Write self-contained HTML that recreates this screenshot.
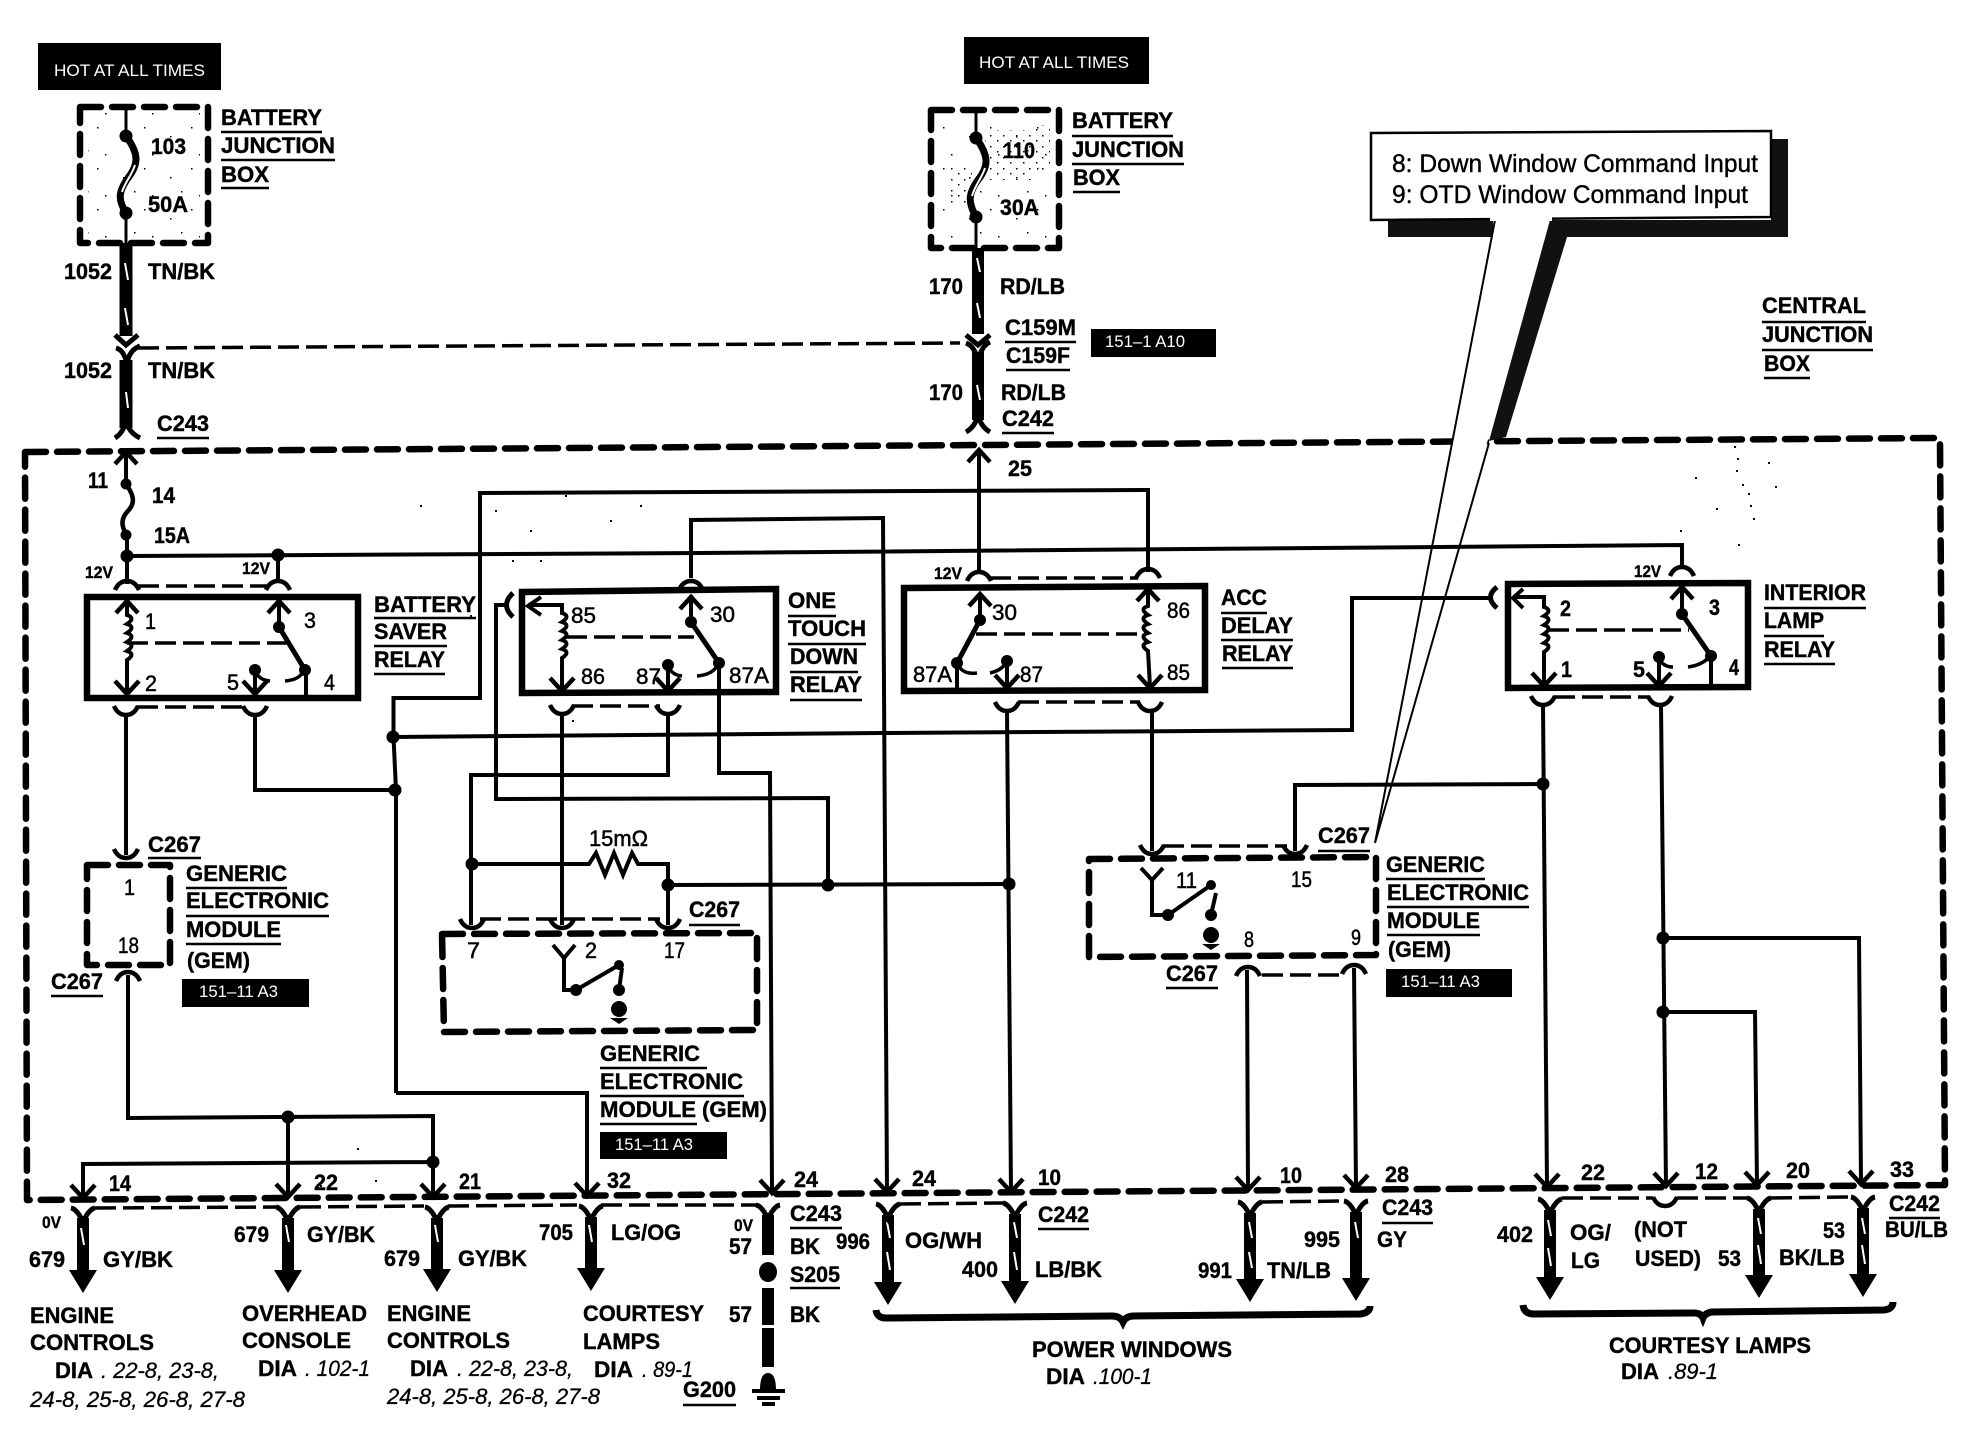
<!DOCTYPE html>
<html><head><meta charset="utf-8"><style>
html,body{margin:0;padding:0;background:#fff}
svg{display:block}
text{font-family:"Liberation Sans",sans-serif;font-weight:bold;font-size:22px;fill:#000;stroke:#000;stroke-width:.4px}
.w{fill:#fff;font-weight:normal;font-size:17px;stroke:none}
.s{font-size:17px}
.i{font-style:italic;font-weight:normal;stroke:#000;stroke-width:.3px}
.c{font-weight:normal;font-size:25px;stroke:#000;stroke-width:.4px}
.n{font-weight:normal;stroke:#000;stroke-width:.5px}
.l{fill:none;stroke:#000;stroke-width:4}
.d{fill:none;stroke:#000;stroke-width:3.5;stroke-dasharray:21 7}
.f{fill:none;stroke:#000;stroke-width:6.5;stroke-dasharray:21 11;stroke-linecap:round;stroke-linejoin:round}
.t{fill:none;stroke:#000;stroke-width:12}
.k{fill:none;stroke:#fff;stroke-width:2}
</style></head><body>
<svg width="1970" height="1440" viewBox="0 0 1970 1440" xmlns="http://www.w3.org/2000/svg">
<defs>
<pattern id="st" width="47" height="41" patternUnits="userSpaceOnUse"><rect x="3" y="4" width="1.5" height="1.5"/><rect x="29" y="13" width="1.5" height="1.5"/><rect x="11" y="31" width="1.5" height="1.5"/><rect x="40" y="27" width="1.5" height="1.5"/></pattern>
<pattern id="st2" width="13" height="11" patternUnits="userSpaceOnUse"><rect x="2" y="3" width="1.5" height="1.5"/><rect x="9" y="8" width="1.5" height="1.5"/></pattern>
<path id="da" d="M-12 -13L0 0L12 -13" fill="none" stroke="#000" stroke-width="4.5"/>
<path id="ua" d="M-11 12L0 0L11 12" fill="none" stroke="#000" stroke-width="4.5"/>
<path id="cu" d="M-12 -6Q-8 3 0 3Q8 3 12 -6" fill="none" stroke="#000" stroke-width="4.5"/>
<path id="ar" d="M-12 6Q-8 -3 0 -3Q8 -3 12 6" fill="none" stroke="#000" stroke-width="4.5"/>
<path id="yf" d="M-12 0Q-6 1 0 14Q6 1 12 0" fill="none" stroke="#000" stroke-width="5"/>
<path id="he" d="M-14 0H14L0 23Z"/>
</defs>
<rect width="1970" height="1440" fill="#fff"/>

<!-- black labels -->
<g fill="#000">
<rect x="38" y="43" width="183" height="47"/><rect x="964" y="37" width="185" height="47"/>
<rect x="1091" y="329" width="125" height="28"/><rect x="182" y="979" width="127" height="28"/>
<rect x="600" y="1132" width="127" height="27"/><rect x="1386" y="969" width="126" height="28"/>
</g>
<text class="w" x="54" y="76" textLength="151" lengthAdjust="spacingAndGlyphs">HOT AT ALL TIMES</text>
<text class="w" x="979" y="68" textLength="150" lengthAdjust="spacingAndGlyphs">HOT AT ALL TIMES</text>
<text class="w" x="1105" y="347" textLength="80" lengthAdjust="spacingAndGlyphs">151–1 A10</text>
<text class="w" x="199" y="997" textLength="79" lengthAdjust="spacingAndGlyphs">151–11 A3</text>
<text class="w" x="615" y="1150" textLength="78" lengthAdjust="spacingAndGlyphs">151–11 A3</text>
<text class="w" x="1401" y="987" textLength="79" lengthAdjust="spacingAndGlyphs">151–11 A3</text>

<!-- stipple in the fuse boxes and specks -->
<rect x="88" y="113" width="112" height="125" fill="url(#st)"/>
<rect x="940" y="116" width="112" height="126" fill="url(#st)"/>
<rect x="985" y="130" width="50" height="50" fill="url(#st2)"/>
<rect x="950" y="165" width="22" height="40" fill="url(#st2)"/>
<rect x="1035" y="125" width="15" height="45" fill="url(#st2)"/>
<path d="M1734 446h2v2h-2zM1737 458h2v2h-2zM1768 462h2v2h-2zM1736 470h2v2h-2zM1742 484h2v2h-2zM1748 493h2v2h-2zM1695 477h2v2h-2zM1775 486h2v2h-2zM1716 508h2v2h-2zM1750 505h2v2h-2zM1753 518h2v2h-2zM1680 530h2v2h-2zM1738 544h2v2h-2zM420 505h2v2h-2zM495 510h2v2h-2zM530 530h2v2h-2zM565 495h2v2h-2zM610 520h2v2h-2zM640 505h2v2h-2zM512 560h2v2h-2zM470 615h2v2h-2zM540 560h2v2h-2zM572 720h2v2h-2zM320 1185h2v2h-2zM357 1148h2v2h-2zM375 1180h2v2h-2z"/>

<!-- frame and dashed boxes -->
<path class="f" d="M25 452L1937 438Q1940 438 1940 442L1945 1185L27 1200Z"/>
<rect class="f" x="80" y="107" width="128" height="136"/>
<rect class="f" x="931" y="110" width="128" height="138"/>
<rect class="f" x="87" y="865" width="83" height="100"/>
<path class="f" d="M442 934L757 933L757 1030L444 1032Z"/>
<path class="f" d="M1089 859L1376 857L1376 955L1089 957Z"/>

<!-- callout -->
<rect x="1771" y="139" width="17" height="98" fill="#111"/>
<rect x="1388" y="220" width="105" height="17" fill="#111"/>
<rect x="1550" y="220" width="238" height="17" fill="#111"/>
<path d="M1495 218L1375 843L1550 218Z" fill="#fff"/>
<path d="M1550 220L1567 237L1506 437L1489 441Z" fill="#111"/>
<path d="M1495 220L1375 843L1489 443" fill="none" stroke="#000" stroke-width="2"/>
<path d="M1371 133L1771 131V217L1371 220Z" fill="#fff" stroke="#000" stroke-width="2.5"/>
<path d="M1490 219H1552" stroke="#fff" stroke-width="4"/>
<text class="c" x="1392" y="172" textLength="366" lengthAdjust="spacingAndGlyphs">8: Down Window Command Input</text>
<text class="c" x="1392" y="203" textLength="356" lengthAdjust="spacingAndGlyphs">9: OTD Window Command Input</text>

<!-- relay boxes -->
<g fill="none" stroke="#000" stroke-width="6.5">
<rect x="87" y="597" width="271" height="101"/>
<path d="M522 592L776 589V692L522 693Z"/>
<path d="M904 588L1205 586V690L904 691Z"/>
<path d="M1508 584L1748 583V687L1508 688Z"/>
</g>

<!-- fuses -->
<g fill="none" stroke="#000">
<path stroke-width="7" d="M126 136C140 155 138 165 128 178C118 192 118 200 126 213"/>
<path stroke-width="7" d="M976 138C990 157 988 167 978 180C968 194 968 202 976 217"/>
<path stroke-width="4.5" d="M126 484C136 498 134 505 127 512C120 520 122 528 127 535"/>
</g>
<path class="k" d="M135 165C132 175 125 182 122 192M985 168C982 178 975 185 972 196"/>

<!-- thick wires -->
<g>
<path class="t" style="stroke-width:13" d="M126 243V336M126 360V428"/>
<path class="t" d="M978 248V334M978 352V420"/>
<path class="t" d="M83 1218V1272M288 1218V1272M437 1218V1272M591 1217V1270"/>
<path class="t" d="M768 1215V1255M768 1288V1325M768 1328V1367"/>
<path class="t" d="M888 1215V1284M1015 1214V1284M1250 1213V1280M1356 1212V1280M1550 1210V1278M1759 1209V1276M1863 1208V1275"/>
</g>
<g>
<use href="#he" x="83" y="1270"/><use href="#he" x="288" y="1270"/><use href="#he" x="437" y="1269"/><use href="#he" x="591" y="1268"/>
<use href="#he" x="888" y="1282"/><use href="#he" x="1015" y="1281"/><use href="#he" x="1250" y="1279"/><use href="#he" x="1356" y="1278"/>
<use href="#he" x="1550" y="1277"/><use href="#he" x="1759" y="1275"/><use href="#he" x="1863" y="1274"/>
</g>
<g fill="none" stroke="#000" stroke-width="5">
<path d="M115 335L126 345L138 335M116 348Q124 350 127 364Q129 350 140 346M115 438Q124 432 126 420Q128 432 140 438"/>
<path d="M966 335L978 345L990 335M966 343Q975 346 978 362Q981 346 990 342M966 432Q975 427 978 415Q981 427 990 432"/>
</g>
<path class="k" d="M125 263L128 280M125 308L128 325M126 392L128 408M977 258L980 272M977 303L980 318M977 385L980 400"/>
<path class="k" d="M81 1228L84 1245M286 1225L289 1242M435 1225L438 1242M589 1225L592 1242M887 1222L890 1238M887 1252L890 1270M1014 1222L1017 1238M1014 1252L1017 1270M1249 1222L1252 1238M1249 1252L1252 1268M1355 1222L1358 1238M1548 1220L1551 1236M1548 1248L1551 1266M1758 1218L1761 1234M1758 1245L1761 1264M1862 1218L1865 1234M1862 1245L1865 1264"/>

<!-- thin wires -->
<g>
<path class="l" style="stroke-width:3" d="M126 107V136M126 213V243M976 110V138M976 217V248"/>
<path class="l" d="M126 454V484M127 535V584"/>
<path class="l" d="M127 556L700 553L1682 545V568"/>
<path class="l" d="M278 555V582"/>
<path class="l" d="M126 713V855M255 713V790H395"/>
<path class="l" d="M396 1093V790L393.5 737V698H480V493L1148 490V572"/>
<path class="l" d="M396 1093H587V1196"/>
<path class="l" d="M393 737L882 733L1352 730V598H1490"/>
<path class="l" d="M505 605H496V799L828 798V885"/>
<path class="l" d="M668 713V775H471V925"/>
<path class="l" d="M472 864H589L596 853L605 875L614 853L623 875L632 853L638 864H668V925"/>
<path class="l" d="M668 885L1009 884"/>
<path class="l" d="M562 713V925"/>
<path class="l" d="M691 578V520L883 518L887 1192"/>
<path class="l" d="M719 663V773H770L772 1193"/>
<path class="l" d="M979 452V572"/>
<path class="l" d="M1007 710L1011 1192"/>
<path class="l" d="M1152 710V851"/>
<path class="l" d="M1295 851V785L1543 784"/>
<path class="l" d="M1543 704L1547 1187M1661 704L1666 1186"/>
<path class="l" d="M1663 938H1859L1861 1184M1663 1012H1755L1757 1185"/>
<path class="l" d="M1247 970L1248 1190M1354 968L1356 1188"/>
<path class="l" d="M128 975V1118L433 1116V1197M288 1117V1197M433 1162L83 1164V1198"/>
</g>

<!-- dashed connector lines -->
<g>
<path class="d" d="M138 348L960 343"/>
<path class="d" d="M138 586H268M137 707H246M572 706H660M990 578H1138M1018 702H1140M1554 697H1650M480 919H660M1163 846H1287M1262 975H1342"/>
<path class="d" d="M95 1208L276 1207M300 1207L424 1206M448 1206L577 1205M601 1205L757 1205M900 1204L1003 1203M1262 1202L1344 1201M1562 1198L1653 1198M1677 1198L1747 1198M1771 1198L1850 1197"/>
<path class="d" d="M127 643H287M566 637H694M976 634H1144M1548 630H1689"/>
</g>

<!-- connector symbols -->
<use href="#ua" x="126" y="452"/><use href="#ua" x="979" y="450"/>
<use href="#ar" x="127" y="584"/><use href="#ar" x="278" y="584"/><use href="#ar" x="691" y="584"/>
<use href="#ar" x="979" y="575"/><use href="#ar" x="1148" y="572"/><use href="#ar" x="1682" y="570"/>
<use href="#ar" x="128" y="975"/><use href="#ar" x="1248" y="970"/><use href="#ar" x="1354" y="968"/>
<use href="#cu" x="126" y="712"/><use href="#cu" x="255" y="712"/><use href="#cu" x="562" y="711"/><use href="#cu" x="668" y="711"/>
<use href="#cu" x="1007" y="708"/><use href="#cu" x="1150" y="708"/><use href="#cu" x="1543" y="702"/><use href="#cu" x="1660" y="702"/>
<use href="#cu" x="126" y="855"/><use href="#cu" x="472" y="925"/><use href="#cu" x="562" y="925"/><use href="#cu" x="668" y="925"/>
<use href="#cu" x="1152" y="851"/><use href="#cu" x="1295" y="851"/><use href="#cu" x="1665" y="1203"/>
<g>
<use href="#yf" x="83" y="1208"/><use href="#yf" x="288" y="1207"/><use href="#yf" x="437" y="1207"/><use href="#yf" x="591" y="1206"/>
<use href="#yf" x="768" y="1205"/><use href="#yf" x="888" y="1204"/><use href="#yf" x="1015" y="1203"/><use href="#yf" x="1250" y="1202"/>
<use href="#yf" x="1356" y="1201"/><use href="#yf" x="1550" y="1199"/><use href="#yf" x="1759" y="1198"/><use href="#yf" x="1863" y="1197"/>
</g>
<use href="#da" x="83" y="1198"/><use href="#da" x="288" y="1197"/><use href="#da" x="433" y="1197"/><use href="#da" x="587" y="1196"/>
<use href="#da" x="772" y="1193"/><use href="#da" x="887" y="1192"/><use href="#da" x="1011" y="1192"/><use href="#da" x="1248" y="1190"/>
<use href="#da" x="1356" y="1188"/><use href="#da" x="1547" y="1187"/><use href="#da" x="1666" y="1186"/><use href="#da" x="1757" y="1185"/><use href="#da" x="1861" y="1184"/>
<path d="M513 593Q500 605 513 617M1497 587Q1484 597 1497 608" fill="none" stroke="#000" stroke-width="5"/>

<!-- relay internals -->
<g fill="none" stroke="#000" stroke-width="4">
<path d="M127 600V615q9 3 0 9q9 3 0 9q9 3 0 9q9 3 0 9q9 3 0 9V693M279 600V627M306 670V695M255 670V693"/>
<path d="M528 605H562V613q9 3 0 9q9 3 0 9q9 3 0 9q9 3 0 9q9 3 0 9V690M691 595V622M668 665V690"/>
<path d="M541 597L528 606L541 615"/>
<path d="M980 595V620M957 663V688M1007 661V687M1148 590V606q-9 3 0 9q-9 3 0 9q-9 3 0 9q-9 3 0 9q-9 3 0 9L1150 687"/>
<path d="M1513 597H1544V607q9 3 0 9q9 3 0 9q9 3 0 9q9 3 0 9q9 3 0 9V685M1682 585V614M1711 656V685M1659 657V685"/>
<path d="M1523 589L1513 598L1523 608"/>
</g>
<g>
<use href="#ua" x="127" y="601"/><use href="#ua" x="279" y="601"/><use href="#da" x="127" y="694"/><use href="#da" x="255" y="694"/>
<use href="#ua" x="691" y="597"/><use href="#da" x="562" y="691"/><use href="#da" x="668" y="691"/>
<use href="#ua" x="980" y="594"/><use href="#ua" x="1148" y="589"/><use href="#da" x="1007" y="688"/><use href="#da" x="1150" y="688"/>
<use href="#ua" x="1682" y="587"/><use href="#da" x="1544" y="686"/><use href="#da" x="1659" y="686"/>
</g>
<g fill="none" stroke="#000" stroke-width="5">
<path d="M279 627L305 670M691 622L719 663M980 620L957 663M1682 614L1711 656"/>
<path stroke-width="3.5" d="M255 670Q258 680 270 681M285 681Q300 680 304 670M668 665Q671 675 682 676M697 676Q712 675 718 665M957 663Q962 675 977 673M990 673Q1003 670 1007 661M1659 657Q1662 667 1673 667M1688 667Q1703 665 1710 656"/>
</g>

<!-- GEM internals -->
<g fill="none" stroke="#000" stroke-width="4">
<path d="M553 945L564 958L575 945M564 958V990H576L619 965M622 968L619 990"/>
<path d="M1141 868L1152 880L1163 868M1152 880V915H1168L1211 885M1216 893L1211 915"/>
</g>
<!-- dots -->
<g fill="#000">
<circle cx="126" cy="136" r="6.5"/><circle cx="126" cy="213" r="6.5"/><circle cx="976" cy="138" r="6.5"/><circle cx="976" cy="217" r="6.5"/>
<circle cx="126" cy="484" r="5.5"/><circle cx="126" cy="535" r="5.5"/><circle cx="127" cy="556" r="6.5"/><circle cx="278" cy="555" r="6.5"/>
<circle cx="279" cy="627" r="6"/><circle cx="305" cy="670" r="6"/><circle cx="255" cy="670" r="6"/>
<circle cx="691" cy="622" r="6"/><circle cx="719" cy="663" r="6"/><circle cx="668" cy="665" r="6"/>
<circle cx="980" cy="620" r="6"/><circle cx="957" cy="663" r="6"/><circle cx="1007" cy="661" r="6"/>
<circle cx="1682" cy="614" r="6"/><circle cx="1711" cy="656" r="6"/><circle cx="1659" cy="657" r="6"/>
<circle cx="393" cy="737" r="6.5"/><circle cx="395" cy="790" r="6.5"/><circle cx="472" cy="864" r="6.5"/><circle cx="668" cy="885" r="6.5"/>
<circle cx="828" cy="885" r="6.5"/><circle cx="1009" cy="884" r="6.5"/><circle cx="1543" cy="784" r="6.5"/><circle cx="1663" cy="938" r="6.5"/><circle cx="1663" cy="1012" r="6.5"/>
<circle cx="288" cy="1117" r="6.5"/><circle cx="433" cy="1162" r="6.5"/>
<circle cx="576" cy="990" r="6"/><circle cx="619" cy="965" r="5"/><circle cx="619" cy="990" r="6"/><circle cx="619" cy="1009" r="8"/>
<circle cx="1168" cy="915" r="6"/><circle cx="1211" cy="885" r="5"/><circle cx="1211" cy="915" r="6"/><circle cx="1211" cy="935" r="8"/>
<ellipse cx="768" cy="1272" rx="9" ry="10"/>
<path d="M760 1390Q760 1373 768 1373Q776 1373 776 1390ZM752 1389H785V1393H752ZM757 1396H780V1400H757ZM762 1402H775V1406H762Z"/>
<path d="M610 1018H628L619 1024ZM1202 944H1220L1211 950Z"/>
</g>

<!-- braces -->
<g fill="none" stroke="#000" stroke-width="7">
<path d="M876 1310Q877 1318 886 1318L1112 1316Q1120 1316 1123 1322Q1126 1316 1134 1316L1360 1314Q1370 1313 1370 1306"/>
<path d="M1523 1305Q1524 1314 1534 1314L1694 1313Q1701 1313 1703 1318Q1705 1313 1712 1312L1884 1310Q1893 1309 1893 1302"/>
</g>

<!-- underlines -->
<path fill="none" stroke="#000" stroke-width="2.6" d="M221 132H322M221 160H335M221 188H269M157 438H209M1072 136H1173M1072 164H1184M1073 192H1120M1005 342H1076M1006 370H1070M1002 433H1054M1762 322H1866M1762 350H1873M1764 378H1810M374 618H476M374 646H447M374 674H445M788 616H836M788 644H866M790 672H858M790 700H862M1221 613H1267M1221 640H1293M1222 668H1293M1764 608H1866M1764 636H1824M1764 664H1835M148 858H201M186 888H287M186 916H329M186 944H281M51 996H103M689 925H740M600 1068H707M600 1096H744M600 1124H697M1318 851H1370M1386 879H1485M1387 907H1529M1387 935H1480M1166 988H1218M790 1228H842M790 1288H840M683 1405H736M1038 1229H1089M1382 1223H1433M1889 1218H1940"/>

<!-- labels -->
<g>
<text x="221" y="125" textLength="101" lengthAdjust="spacingAndGlyphs">BATTERY</text>
<text x="221" y="153" textLength="114" lengthAdjust="spacingAndGlyphs">JUNCTION</text>
<text x="221" y="182" textLength="48" lengthAdjust="spacingAndGlyphs">BOX</text>
<text x="151" y="154" textLength="35" lengthAdjust="spacingAndGlyphs">103</text>
<text x="148" y="212" textLength="40" lengthAdjust="spacingAndGlyphs">50A</text>
<text x="64" y="279" textLength="48" lengthAdjust="spacingAndGlyphs">1052</text>
<text x="148" y="279" textLength="67" lengthAdjust="spacingAndGlyphs">TN/BK</text>
<text x="64" y="378" textLength="48" lengthAdjust="spacingAndGlyphs">1052</text>
<text x="148" y="378" textLength="67" lengthAdjust="spacingAndGlyphs">TN/BK</text>
<text x="157" y="431" textLength="52" lengthAdjust="spacingAndGlyphs">C243</text>

<text x="1072" y="128" textLength="101" lengthAdjust="spacingAndGlyphs">BATTERY</text>
<text x="1072" y="157" textLength="112" lengthAdjust="spacingAndGlyphs">JUNCTION</text>
<text x="1073" y="185" textLength="47" lengthAdjust="spacingAndGlyphs">BOX</text>
<text x="1003" y="158" textLength="32" lengthAdjust="spacingAndGlyphs">110</text>
<text x="1000" y="215" textLength="39" lengthAdjust="spacingAndGlyphs">30A</text>
<text x="929" y="294" textLength="34" lengthAdjust="spacingAndGlyphs">170</text>
<text x="1000" y="294" textLength="65" lengthAdjust="spacingAndGlyphs">RD/LB</text>
<text x="1005" y="335" textLength="71" lengthAdjust="spacingAndGlyphs">C159M</text>
<text x="1006" y="363" textLength="64" lengthAdjust="spacingAndGlyphs">C159F</text>
<text x="929" y="400" textLength="34" lengthAdjust="spacingAndGlyphs">170</text>
<text x="1001" y="400" textLength="65" lengthAdjust="spacingAndGlyphs">RD/LB</text>
<text x="1002" y="426" textLength="52" lengthAdjust="spacingAndGlyphs">C242</text>
<text x="1008" y="476" textLength="24" lengthAdjust="spacingAndGlyphs">25</text>

<text x="1762" y="313" textLength="104" lengthAdjust="spacingAndGlyphs">CENTRAL</text>
<text x="1762" y="342" textLength="111" lengthAdjust="spacingAndGlyphs">JUNCTION</text>
<text x="1764" y="371" textLength="46" lengthAdjust="spacingAndGlyphs">BOX</text>

<text x="88" y="488" textLength="20" lengthAdjust="spacingAndGlyphs">11</text>
<text x="152" y="503" textLength="23" lengthAdjust="spacingAndGlyphs">14</text>
<text x="154" y="543" textLength="36" lengthAdjust="spacingAndGlyphs">15A</text>
<text class="s" x="85" y="578" textLength="28" lengthAdjust="spacingAndGlyphs">12V</text>
<text class="s" x="242" y="574" textLength="28" lengthAdjust="spacingAndGlyphs">12V</text>
<text class="s" x="934" y="579" textLength="28" lengthAdjust="spacingAndGlyphs">12V</text>
<text class="s" x="1634" y="577" textLength="27" lengthAdjust="spacingAndGlyphs">12V</text>

<text class="n" x="145" y="629" textLength="11" lengthAdjust="spacingAndGlyphs">1</text>
<text class="n" x="304" y="628" textLength="12" lengthAdjust="spacingAndGlyphs">3</text>
<text class="n" x="145" y="691" textLength="12" lengthAdjust="spacingAndGlyphs">2</text>
<text class="n" x="227" y="690" textLength="12" lengthAdjust="spacingAndGlyphs">5</text>
<text class="n" x="324" y="690" textLength="11" lengthAdjust="spacingAndGlyphs">4</text>
<text x="374" y="612" textLength="102" lengthAdjust="spacingAndGlyphs">BATTERY</text>
<text x="374" y="639" textLength="73" lengthAdjust="spacingAndGlyphs">SAVER</text>
<text x="374" y="667" textLength="71" lengthAdjust="spacingAndGlyphs">RELAY</text>

<text class="n" x="571" y="623" textLength="25" lengthAdjust="spacingAndGlyphs">85</text>
<text class="n" x="581" y="684" textLength="24" lengthAdjust="spacingAndGlyphs">86</text>
<text class="n" x="636" y="684" textLength="25" lengthAdjust="spacingAndGlyphs">87</text>
<text class="n" x="729" y="683" textLength="40" lengthAdjust="spacingAndGlyphs">87A</text>
<text class="n" x="710" y="622" textLength="25" lengthAdjust="spacingAndGlyphs">30</text>
<text x="788" y="608" textLength="48" lengthAdjust="spacingAndGlyphs">ONE</text>
<text x="788" y="636" textLength="78" lengthAdjust="spacingAndGlyphs">TOUCH</text>
<text x="790" y="664" textLength="68" lengthAdjust="spacingAndGlyphs">DOWN</text>
<text x="790" y="692" textLength="72" lengthAdjust="spacingAndGlyphs">RELAY</text>

<text class="n" x="992" y="620" textLength="25" lengthAdjust="spacingAndGlyphs">30</text>
<text class="n" x="1167" y="618" textLength="23" lengthAdjust="spacingAndGlyphs">86</text>
<text class="n" x="1167" y="680" textLength="23" lengthAdjust="spacingAndGlyphs">85</text>
<text class="n" x="1020" y="682" textLength="23" lengthAdjust="spacingAndGlyphs">87</text>
<text class="n" x="913" y="682" textLength="39" lengthAdjust="spacingAndGlyphs">87A</text>
<text x="1221" y="605" textLength="46" lengthAdjust="spacingAndGlyphs">ACC</text>
<text x="1221" y="633" textLength="72" lengthAdjust="spacingAndGlyphs">DELAY</text>
<text x="1222" y="661" textLength="71" lengthAdjust="spacingAndGlyphs">RELAY</text>

<text x="1560" y="616" textLength="11" lengthAdjust="spacingAndGlyphs">2</text>
<text x="1709" y="615" textLength="11" lengthAdjust="spacingAndGlyphs">3</text>
<text x="1561" y="677" textLength="11" lengthAdjust="spacingAndGlyphs">1</text>
<text x="1633" y="677" textLength="12" lengthAdjust="spacingAndGlyphs">5</text>
<text x="1729" y="675" textLength="10" lengthAdjust="spacingAndGlyphs">4</text>
<text x="1764" y="600" textLength="102" lengthAdjust="spacingAndGlyphs">INTERIOR</text>
<text x="1764" y="628" textLength="60" lengthAdjust="spacingAndGlyphs">LAMP</text>
<text x="1764" y="657" textLength="71" lengthAdjust="spacingAndGlyphs">RELAY</text>

<text class="n" x="589" y="846" textLength="59" lengthAdjust="spacingAndGlyphs">15mΩ</text>
<text x="148" y="852" textLength="53" lengthAdjust="spacingAndGlyphs">C267</text>
<text class="n" x="124" y="895" textLength="11" lengthAdjust="spacingAndGlyphs">1</text>
<text class="n" x="118" y="953" textLength="21" lengthAdjust="spacingAndGlyphs">18</text>
<text x="186" y="881" textLength="101" lengthAdjust="spacingAndGlyphs">GENERIC</text>
<text x="186" y="908" textLength="143" lengthAdjust="spacingAndGlyphs">ELECTRONIC</text>
<text x="186" y="937" textLength="95" lengthAdjust="spacingAndGlyphs">MODULE</text>
<text x="187" y="968" textLength="63" lengthAdjust="spacingAndGlyphs">(GEM)</text>
<text x="51" y="989" textLength="52" lengthAdjust="spacingAndGlyphs">C267</text>

<text x="689" y="917" textLength="51" lengthAdjust="spacingAndGlyphs">C267</text>
<text class="n" x="467" y="958" textLength="13" lengthAdjust="spacingAndGlyphs">7</text>
<text class="n" x="585" y="958" textLength="12" lengthAdjust="spacingAndGlyphs">2</text>
<text class="n" x="664" y="958" textLength="21" lengthAdjust="spacingAndGlyphs">17</text>
<text x="600" y="1061" textLength="100" lengthAdjust="spacingAndGlyphs">GENERIC</text>
<text x="600" y="1089" textLength="143" lengthAdjust="spacingAndGlyphs">ELECTRONIC</text>
<text x="600" y="1117" textLength="96" lengthAdjust="spacingAndGlyphs">MODULE</text>
<text x="702" y="1117" textLength="65" lengthAdjust="spacingAndGlyphs">(GEM)</text>

<text x="1318" y="843" textLength="52" lengthAdjust="spacingAndGlyphs">C267</text>
<text class="n" x="1176" y="888" textLength="21" lengthAdjust="spacingAndGlyphs">11</text>
<text class="n" x="1291" y="887" textLength="21" lengthAdjust="spacingAndGlyphs">15</text>
<text class="n" x="1244" y="947" textLength="10" lengthAdjust="spacingAndGlyphs">8</text>
<text class="n" x="1351" y="945" textLength="10" lengthAdjust="spacingAndGlyphs">9</text>
<text x="1386" y="872" textLength="99" lengthAdjust="spacingAndGlyphs">GENERIC</text>
<text x="1387" y="900" textLength="142" lengthAdjust="spacingAndGlyphs">ELECTRONIC</text>
<text x="1387" y="928" textLength="93" lengthAdjust="spacingAndGlyphs">MODULE</text>
<text x="1388" y="957" textLength="63" lengthAdjust="spacingAndGlyphs">(GEM)</text>
<text x="1166" y="981" textLength="52" lengthAdjust="spacingAndGlyphs">C267</text>

<text x="109" y="1191" textLength="22" lengthAdjust="spacingAndGlyphs">14</text>
<text x="314" y="1190" textLength="24" lengthAdjust="spacingAndGlyphs">22</text>
<text x="459" y="1189" textLength="22" lengthAdjust="spacingAndGlyphs">21</text>
<text x="607" y="1188" textLength="24" lengthAdjust="spacingAndGlyphs">32</text>
<text x="794" y="1187" textLength="24" lengthAdjust="spacingAndGlyphs">24</text>
<text x="912" y="1186" textLength="24" lengthAdjust="spacingAndGlyphs">24</text>
<text x="1038" y="1185" textLength="23" lengthAdjust="spacingAndGlyphs">10</text>
<text x="1280" y="1183" textLength="22" lengthAdjust="spacingAndGlyphs">10</text>
<text x="1385" y="1182" textLength="24" lengthAdjust="spacingAndGlyphs">28</text>
<text x="1581" y="1180" textLength="24" lengthAdjust="spacingAndGlyphs">22</text>
<text x="1695" y="1179" textLength="23" lengthAdjust="spacingAndGlyphs">12</text>
<text x="1786" y="1178" textLength="24" lengthAdjust="spacingAndGlyphs">20</text>
<text x="1890" y="1177" textLength="24" lengthAdjust="spacingAndGlyphs">33</text>

<text class="s" x="42" y="1228" textLength="19" lengthAdjust="spacingAndGlyphs">0V</text>
<text x="29" y="1267" textLength="36" lengthAdjust="spacingAndGlyphs">679</text>
<text x="103" y="1267" textLength="70" lengthAdjust="spacingAndGlyphs">GY/BK</text>
<text x="234" y="1242" textLength="35" lengthAdjust="spacingAndGlyphs">679</text>
<text x="307" y="1242" textLength="68" lengthAdjust="spacingAndGlyphs">GY/BK</text>
<text x="384" y="1266" textLength="36" lengthAdjust="spacingAndGlyphs">679</text>
<text x="458" y="1266" textLength="69" lengthAdjust="spacingAndGlyphs">GY/BK</text>
<text x="539" y="1240" textLength="34" lengthAdjust="spacingAndGlyphs">705</text>
<text x="611" y="1240" textLength="70" lengthAdjust="spacingAndGlyphs">LG/OG</text>

<text x="30" y="1323" textLength="84" lengthAdjust="spacingAndGlyphs">ENGINE</text>
<text x="30" y="1350" textLength="124" lengthAdjust="spacingAndGlyphs">CONTROLS</text>
<text x="55" y="1378" textLength="38" lengthAdjust="spacingAndGlyphs">DIA</text>
<text class="i" x="101" y="1378" textLength="118" lengthAdjust="spacingAndGlyphs">. 22-8, 23-8,</text>
<text class="i" x="30" y="1407" textLength="215" lengthAdjust="spacingAndGlyphs">24-8, 25-8, 26-8, 27-8</text>
<text x="242" y="1321" textLength="125" lengthAdjust="spacingAndGlyphs">OVERHEAD</text>
<text x="242" y="1348" textLength="109" lengthAdjust="spacingAndGlyphs">CONSOLE</text>
<text x="258" y="1376" textLength="39" lengthAdjust="spacingAndGlyphs">DIA</text>
<text class="i" x="305" y="1376" textLength="65" lengthAdjust="spacingAndGlyphs">. 102-1</text>
<text x="387" y="1321" textLength="84" lengthAdjust="spacingAndGlyphs">ENGINE</text>
<text x="387" y="1348" textLength="123" lengthAdjust="spacingAndGlyphs">CONTROLS</text>
<text x="410" y="1376" textLength="38" lengthAdjust="spacingAndGlyphs">DIA</text>
<text class="i" x="457" y="1376" textLength="116" lengthAdjust="spacingAndGlyphs">. 22-8, 23-8,</text>
<text class="i" x="387" y="1404" textLength="213" lengthAdjust="spacingAndGlyphs">24-8, 25-8, 26-8, 27-8</text>
<text x="583" y="1321" textLength="121" lengthAdjust="spacingAndGlyphs">COURTESY</text>
<text x="583" y="1349" textLength="77" lengthAdjust="spacingAndGlyphs">LAMPS</text>
<text x="594" y="1377" textLength="39" lengthAdjust="spacingAndGlyphs">DIA</text>
<text class="i" x="642" y="1377" textLength="51" lengthAdjust="spacingAndGlyphs">. 89-1</text>

<text class="s" x="734" y="1231" textLength="19" lengthAdjust="spacingAndGlyphs">0V</text>
<text x="729" y="1254" textLength="23" lengthAdjust="spacingAndGlyphs">57</text>
<text x="729" y="1322" textLength="23" lengthAdjust="spacingAndGlyphs">57</text>
<text x="790" y="1221" textLength="52" lengthAdjust="spacingAndGlyphs">C243</text>
<text x="790" y="1254" textLength="30" lengthAdjust="spacingAndGlyphs">BK</text>
<text x="790" y="1282" textLength="50" lengthAdjust="spacingAndGlyphs">S205</text>
<text x="790" y="1322" textLength="30" lengthAdjust="spacingAndGlyphs">BK</text>
<text x="683" y="1397" textLength="53" lengthAdjust="spacingAndGlyphs">G200</text>
<text x="836" y="1249" textLength="34" lengthAdjust="spacingAndGlyphs">996</text>
<text x="905" y="1248" textLength="77" lengthAdjust="spacingAndGlyphs">OG/WH</text>
<text x="962" y="1277" textLength="36" lengthAdjust="spacingAndGlyphs">400</text>
<text x="1035" y="1277" textLength="67" lengthAdjust="spacingAndGlyphs">LB/BK</text>
<text x="1038" y="1222" textLength="51" lengthAdjust="spacingAndGlyphs">C242</text>
<text x="1198" y="1278" textLength="34" lengthAdjust="spacingAndGlyphs">991</text>
<text x="1267" y="1278" textLength="64" lengthAdjust="spacingAndGlyphs">TN/LB</text>
<text x="1304" y="1247" textLength="36" lengthAdjust="spacingAndGlyphs">995</text>
<text x="1382" y="1215" textLength="51" lengthAdjust="spacingAndGlyphs">C243</text>
<text x="1377" y="1247" textLength="30" lengthAdjust="spacingAndGlyphs">GY</text>
<text x="1032" y="1357" textLength="200" lengthAdjust="spacingAndGlyphs">POWER WINDOWS</text>
<text x="1046" y="1384" textLength="39" lengthAdjust="spacingAndGlyphs">DIA</text>
<text class="i" x="1093" y="1384" textLength="59" lengthAdjust="spacingAndGlyphs">.100-1</text>

<text x="1497" y="1242" textLength="36" lengthAdjust="spacingAndGlyphs">402</text>
<text x="1570" y="1240" textLength="41" lengthAdjust="spacingAndGlyphs">OG/</text>
<text x="1571" y="1268" textLength="29" lengthAdjust="spacingAndGlyphs">LG</text>
<text x="1634" y="1237" textLength="53" lengthAdjust="spacingAndGlyphs">(NOT</text>
<text x="1635" y="1266" textLength="66" lengthAdjust="spacingAndGlyphs">USED)</text>
<text x="1718" y="1266" textLength="23" lengthAdjust="spacingAndGlyphs">53</text>
<text x="1779" y="1265" textLength="66" lengthAdjust="spacingAndGlyphs">BK/LB</text>
<text x="1823" y="1238" textLength="22" lengthAdjust="spacingAndGlyphs">53</text>
<text x="1889" y="1211" textLength="51" lengthAdjust="spacingAndGlyphs">C242</text>
<text x="1885" y="1237" textLength="63" lengthAdjust="spacingAndGlyphs">BU/LB</text>
<text x="1609" y="1353" textLength="202" lengthAdjust="spacingAndGlyphs">COURTESY LAMPS</text>
<text x="1621" y="1379" textLength="38" lengthAdjust="spacingAndGlyphs">DIA</text>
<text class="i" x="1668" y="1379" textLength="50" lengthAdjust="spacingAndGlyphs">.89-1</text>
</g>
</svg>
</body></html>
